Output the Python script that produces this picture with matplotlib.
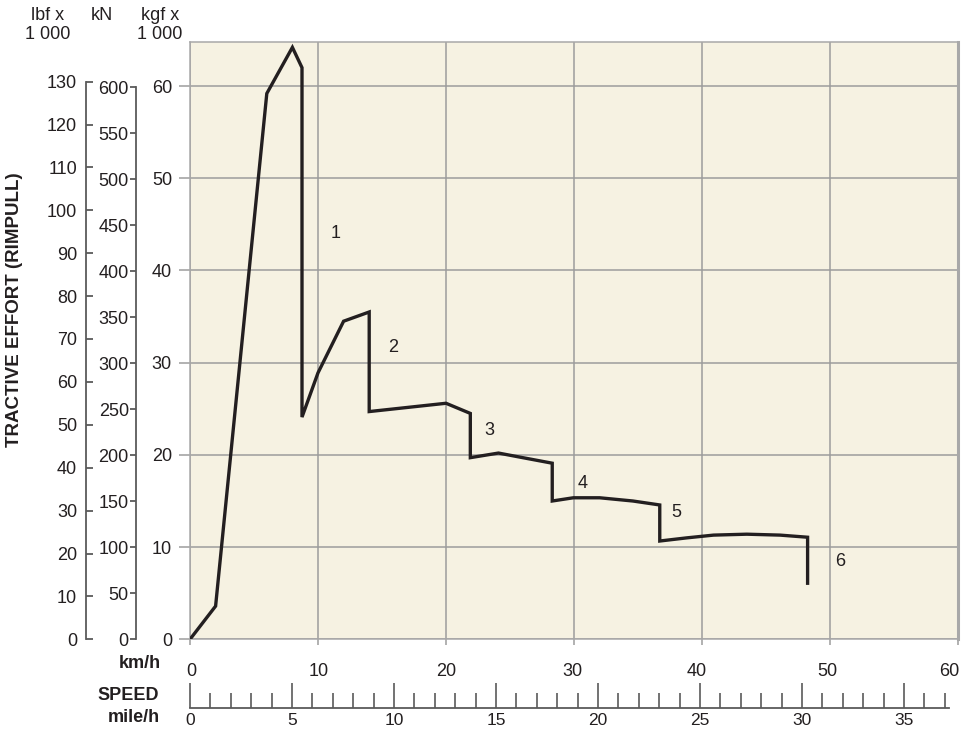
import matplotlib
matplotlib.use("Agg")
import matplotlib.pyplot as plt
import matplotlib.transforms as mtransforms
import numpy as np

plt.rcParams['font.family'] = ['Liberation Sans', 'DejaVu Sans']

# ---- data (speed km/h, tractive effort kgf x 1000) ----
speed_kmh = [0, 2.0, 6.0, 8.0, 8.75, 8.75, 10.0, 12.0, 14.0, 14.0, 20.0, 21.9, 21.9,
             24.1, 26.0, 28.3, 28.3, 29.95, 32.0, 34.6, 36.7, 36.7, 38.8, 40.9, 43.5,
             46.1, 48.25, 48.25]
effort_kgf = [0, 3.6, 59.2, 64.2, 62.0, 24.1, 28.9, 34.5, 35.5, 24.7, 25.6, 24.5, 19.7,
              20.2, 19.7, 19.1, 15.0, 15.35, 15.35, 15.0, 14.57, 10.66, 11.0, 11.3, 11.4,
              11.3, 11.07, 5.9]
gear_labels = ['1', '2', '3', '4', '5', '6']
gear_label_x = [11.4, 15.9, 23.4, 30.7, 38.0, 50.8]
gear_label_y = [44.0, 31.6, 22.7, 16.9, 13.7, 8.4]

kgf_ticks = [0, 10, 20, 30, 40, 50, 60]
kn_ticks = [0, 50, 100, 150, 200, 250, 300, 350, 400, 450, 500, 550, 600]
lbf_ticks = [0, 10, 20, 30, 40, 50, 60, 70, 80, 90, 100, 110, 120, 130]
kmh_ticks = [0, 10, 20, 30, 40, 50, 60]
mph_major = [0, 5, 10, 15, 20, 25, 30, 35]
mph_minor = list(range(0, 38))

W, H = 961, 733
fig = plt.figure(figsize=(W / 100, H / 100), dpi=100)

def fx(px):
    return px / W

def fy(py):
    return 1 - py / H

# plot area pixel geometry
L, R, T, B = 190, 958, 41.7, 639.3
px_per_kgf = 9.22
ytop_kgf = (B - T) / px_per_kgf

FS = 13
grid_c = '#9c9c9c'
line_c = '#231f20'
txt_c = '#231f20'
axis_c = '#5a5a5a'

ax = fig.add_axes([fx(L), fy(B), fx(R - L), (B - T) / H])
ax.set_facecolor('#f6f2e2')
ax.set_xlim(0, 60)
ax.set_ylim(0, ytop_kgf)
ax.plot(speed_kmh, effort_kgf, color=line_c, lw=2.4, solid_joinstyle='miter',
        solid_capstyle='butt', zorder=5)
for lab, x, y in zip(gear_labels, gear_label_x, gear_label_y):
    ax.text(x, y, lab, fontsize=FS, color=txt_c, ha='center', va='center')

ax.set_xticks(kmh_ticks)
ax.set_yticks(kgf_ticks)
ax.grid(True, color=grid_c, lw=1.1)
ax.set_axisbelow(True)
ax.tick_params(axis='x', direction='out', length=4, width=1.1, color=grid_c,
               labelsize=FS, labelcolor=txt_c, pad=13)
ax.tick_params(axis='y', direction='out', length=8, width=1.1, color=grid_c,
               labelsize=FS, labelcolor=txt_c, pad=5)
for s in ax.spines.values():
    s.set_color('#a8a8a8')
    s.set_linewidth(1.1)
ax.spines['right'].set_linewidth(2.2)

# small horizontal shifts of km/h labels as in the original artwork
xlab_shift_px = [1, 1, 0, -2, -5, -3, -9]
fig.canvas.draw()
for lbl, dpx in zip(ax.get_xticklabels(), xlab_shift_px):
    lbl.set_transform(lbl.get_transform() +
                      mtransforms.ScaledTranslation(dpx / 100, 0, fig.dpi_scale_trans))

# kN axis
xkn = 135.7
axkn = fig.add_axes([fx(xkn), fy(B), 0.001, (B - T) / H])
axkn.set_ylim(0, (B - T) / 0.92)
axkn.patch.set_visible(False)
for k in ['top', 'right', 'bottom']:
    axkn.spines[k].set_visible(False)
axkn.spines['left'].set_color(axis_c)
axkn.spines['left'].set_linewidth(1.3)
axkn.spines['left'].set_bounds(0, 600)
axkn.set_xticks([])
axkn.set_yticks(kn_ticks)
axkn.tick_params(axis='y', direction='out', length=4, width=1.3, color=axis_c,
                 labelsize=FS, labelcolor=txt_c, pad=1)

# lbf axis
xlbf = 85.5
axlb = fig.add_axes([fx(xlbf), fy(B), 0.001, (B - T) / H])
axlb.set_ylim(0, (B - T) / 4.29)
axlb.patch.set_visible(False)
for k in ['top', 'right', 'bottom']:
    axlb.spines[k].set_visible(False)
axlb.spines['left'].set_color(axis_c)
axlb.spines['left'].set_linewidth(1.3)
axlb.spines['left'].set_bounds(0, 130)
axlb.set_xticks([])
axlb.set_yticks(lbf_ticks)
axlb.tick_params(axis='y', direction='in', length=5, width=1.3, color=axis_c,
                 labelsize=FS, labelcolor=txt_c, pad=6)

# mile/h scale
ymph = 708.3
px_per_mph = 20.4
axm = fig.add_axes([fx(L), fy(ymph), fx(R - L), 0.001])
axm.set_xlim(0, (R - L) / px_per_mph)
axm.patch.set_visible(False)
for k in ['top', 'right', 'left']:
    axm.spines[k].set_visible(False)
axm.spines['bottom'].set_color(axis_c)
axm.spines['bottom'].set_linewidth(1.3)
axm.spines['bottom'].set_bounds(0, 37.2)
axm.set_yticks([])
axm.set_xticks(mph_major)
axm.set_xticks(mph_minor, minor=True)
axm.tick_params(axis='x', which='major', direction='in', length=18, width=1.2,
                color=axis_c, labelsize=12.5, labelcolor=txt_c, pad=3.5)
axm.tick_params(axis='x', which='minor', direction='in', length=11, width=1.2,
                color=axis_c)

# texts
fig.text(fx(15), fy(310), 'TRACTIVE EFFORT (RIMPULL)', rotation=90, fontsize=13.5,
         fontweight='bold', color=txt_c, ha='center', va='center')
fig.text(fx(48), fy(25), 'lbf x\n1 000', fontsize=FS, color=txt_c, ha='center',
         va='center', multialignment='center', linespacing=1.1)
fig.text(fx(102), fy(15), 'kN', fontsize=FS, color=txt_c, ha='center', va='center')
fig.text(fx(160), fy(25), 'kgf x\n1 000', fontsize=FS, color=txt_c, ha='center',
         va='center', multialignment='center', linespacing=1.1)
fig.text(fx(161), fy(663), 'km/h', fontsize=FS, fontweight='bold', color=txt_c,
         ha='right', va='center')
fig.text(fx(159), fy(695), 'SPEED', fontsize=FS, fontweight='bold', color=txt_c,
         ha='right', va='center')
fig.text(fx(160), fy(718), 'mile/h', fontsize=FS, fontweight='bold', color=txt_c,
         ha='right', va='center')

fig.savefig('out.png', dpi=100)
